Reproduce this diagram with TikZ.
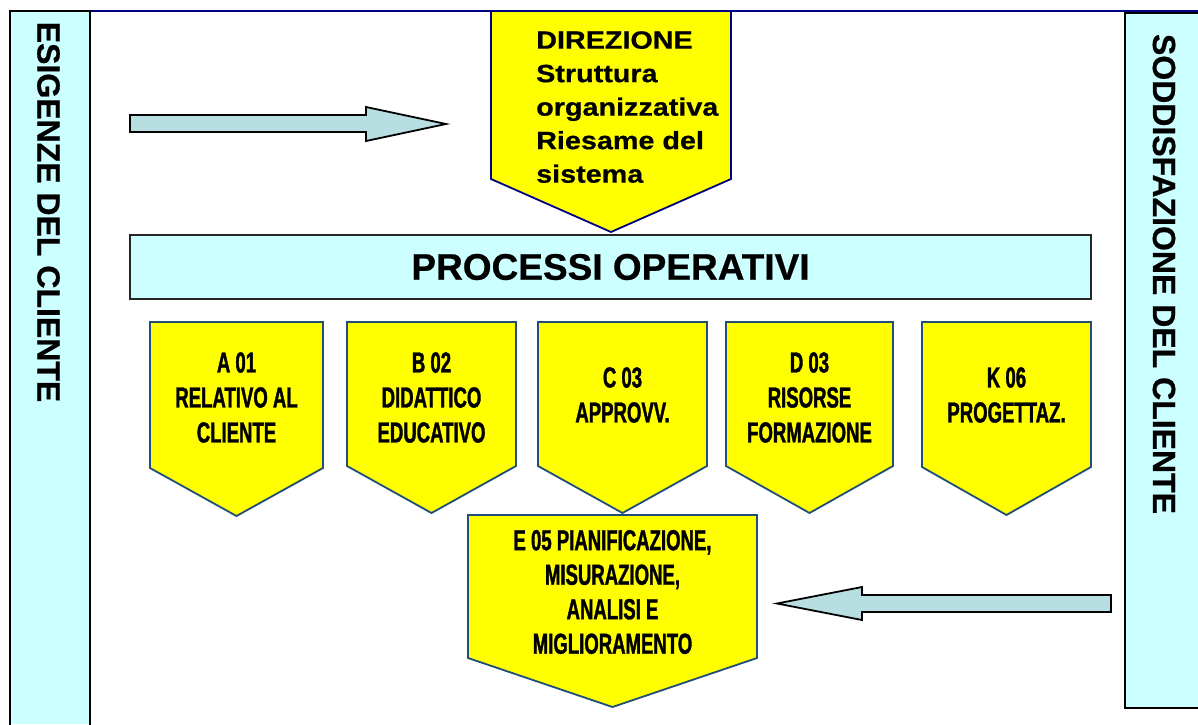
\documentclass[tikz,border=0pt]{standalone}
\usepackage{fontspec}
\setmainfont{Liberation Sans}
\newfontfamily\condfont[FakeStretch=0.64,FakeBold=1.2]{Liberation Sans Bold}
\newfontfamily\dirfont[FakeStretch=1.15,FakeBold=0.6]{Liberation Sans Bold}
\newfontfamily\boldsans[FakeBold=0.6]{Liberation Sans Bold}
\definecolor{lcyan}{HTML}{CCFFFF}
\definecolor{arrowfill}{HTML}{B7DEE1}
\definecolor{penborder}{HTML}{1F4E79}
\definecolor{navyline}{HTML}{000080}
\definecolor{pyellow}{RGB}{255,255,0}
\begin{document}
\begin{tikzpicture}[x=1pt,y=-1pt,
  panel/.style={draw=black,line width=1.8pt},
  penta/.style={draw=penborder,line width=1.8pt,fill=pyellow,line join=miter},
  dirpenta/.style={draw=navyline,line width=1.8pt,fill=pyellow},
  blockarrow/.style={draw=black,line width=1.8pt,fill=arrowfill,line join=miter},
  ptext/.style={font=\condfont\fontsize{29}{35}\selectfont,align=center,inner sep=0pt},
  vtext/.style={font=\boldsans\fontsize{32}{36}\selectfont,inner sep=0pt,rotate=-90},
]
\useasboundingbox (0,0) rectangle (1198,724);
% top line
\draw[navyline,line width=2pt] (10,11) -- (1198,11);
% left panel
\fill[lcyan] (10,11) rectangle (90,724);
\draw[panel] (10,726) -- (10,11) -- (90,11) -- (90,726);
\node[vtext] (esig) at (48.5,212) {ESIGENZE DEL CLIENTE};
% right panel
\fill[lcyan] (1125,13) rectangle (1198,708);
\draw[panel] (1200,13) -- (1125,13) -- (1125,708) -- (1200,708);
\node[vtext] (sodd) at (1164,274) {SODDISFAZIONE DEL CLIENTE};
% direzione
\draw[dirpenta] (491,11) -- (731,11) -- (731,179) -- (611,232) -- (491,179) -- cycle;
\node[font=\dirfont\fontsize{25}{33.5}\selectfont,align=left,inner sep=0pt,anchor=north west] (dir) at (536,31)
  {DIREZIONE\\Struttura\\organizzativa\\Riesame del\\sistema};
% right block arrow
\draw[blockarrow] (130,115) -- (366,115) -- (366,107) -- (446,124) -- (366,141) -- (366,132) -- (130,132) -- cycle;
% processi operativi
\node[draw=black!85,line width=1.8pt,fill=lcyan,minimum width=961pt,minimum height=64pt,inner sep=0pt,
  font=\boldsans\fontsize{37}{40}\selectfont] (proc) at (610.5,267) {PROCESSI OPERATIVI};
% process pentagons
\draw[penta] (150,322) -- (323,322) -- (323,468) -- (236.5,516) -- (150,468) -- cycle;
\node[ptext] (a01) at (236.5,397.5) {A 01\\RELATIVO AL\\CLIENTE};
\draw[penta] (347,322) -- (516,322) -- (516,466) -- (431.5,513) -- (347,466) -- cycle;
\node[ptext] (b02) at (431.5,397.5) {B 02\\DIDATTICO\\EDUCATIVO};
\draw[penta] (538,322) -- (707,322) -- (707,466) -- (622.5,513) -- (538,466) -- cycle;
\node[ptext] (c03) at (622.5,395) {C 03\\APPROVV.};
\draw[penta] (726,322) -- (893,322) -- (893,466) -- (809.5,513) -- (726,466) -- cycle;
\node[ptext] (d03) at (809.5,397.5) {D 03\\RISORSE\\FORMAZIONE};
\draw[penta] (922,322) -- (1091,322) -- (1091,467) -- (1006.5,515) -- (922,467) -- cycle;
\node[ptext] (k06) at (1006.5,395) {K 06\\PROGETTAZ.};
% E05
\draw[penta] (468,515) -- (757,515) -- (757,658) -- (612.5,707) -- (468,658) -- cycle;
\node[ptext,font=\condfont\fontsize{29}{34.5}\selectfont] (e05) at (612.5,592)
  {E 05 PIANIFICAZIONE,\\MISURAZIONE,\\ANALISI E\\MIGLIORAMENTO};
% left block arrow
\draw[blockarrow] (1111,595) -- (862,595) -- (862,587) -- (777,603.5) -- (862,620) -- (862,612) -- (1111,612) -- cycle;
\end{tikzpicture}
\end{document}
